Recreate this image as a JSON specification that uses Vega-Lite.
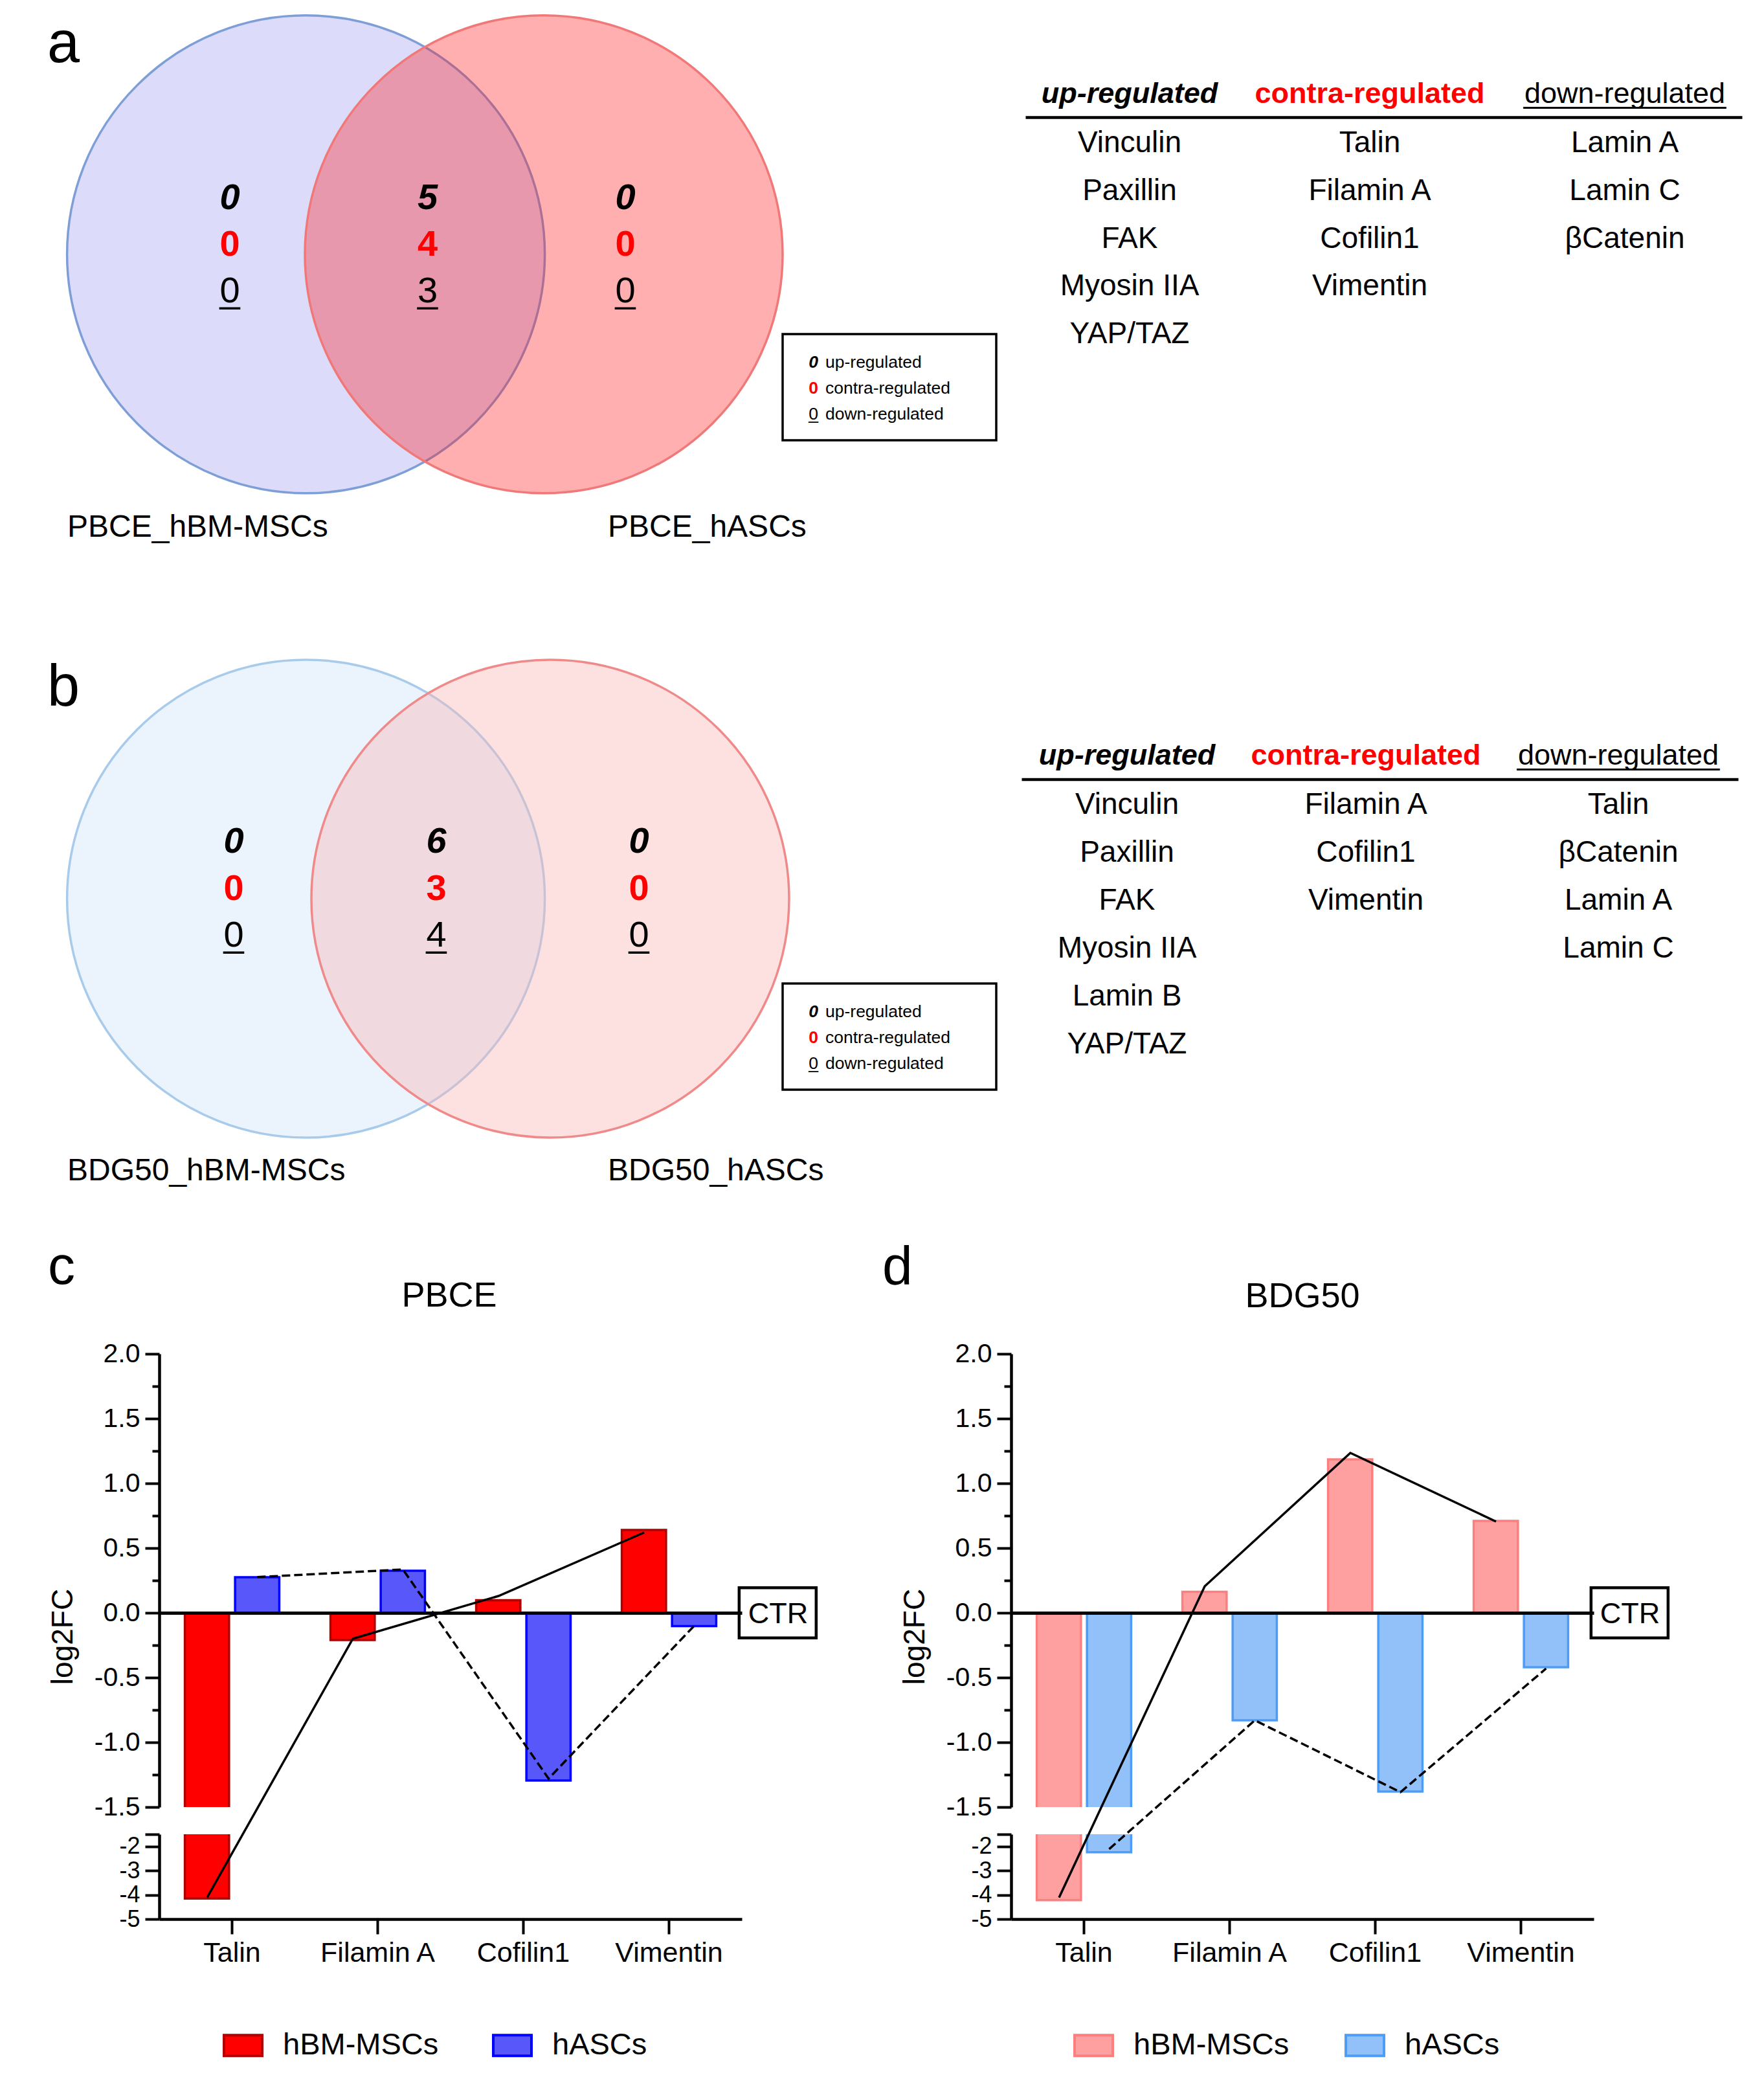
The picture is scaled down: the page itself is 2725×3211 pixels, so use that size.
{
  "$schema": "https://vega.github.io/schema/vega-lite/v6.json",
  "width": 2725,
  "height": 3211,
  "autosize": {"type": "fit", "contains": "padding"},
  "padding": 0,
  "background": "white",
  "config": {
    "view": {"stroke": null},
    "font": "Liberation Sans",
    "axis": {"grid": false, "labelColor": "black", "titleColor": "black", "domainColor": "black", "tickColor": "black", "labelFont": "Liberation Sans", "titleFont": "Liberation Sans"},
    "legend": {"labelFont": "Liberation Sans", "labelColor": "black"}
  },
  "resolve": {
    "scale": {"x": "independent", "y": "independent", "color": "independent", "fill": "independent", "stroke": "independent", "xOffset": "independent"},
    "axis": {"x": "independent", "y": "independent"}
  },
  "datasets": {
    "pbce": [
      {"gene": "Talin", "cell": "hBM-MSCs", "log2fc": -4.15, "trend": -4.11},
      {"gene": "Talin", "cell": "hASCs", "log2fc": 0.275, "trend": 0.276},
      {"gene": "Filamin A", "cell": "hBM-MSCs", "log2fc": -0.21, "trend": -0.2},
      {"gene": "Filamin A", "cell": "hASCs", "log2fc": 0.325, "trend": 0.335},
      {"gene": "Cofilin1", "cell": "hBM-MSCs", "log2fc": 0.097, "trend": 0.13},
      {"gene": "Cofilin1", "cell": "hASCs", "log2fc": -1.295, "trend": -1.28},
      {"gene": "Vimentin", "cell": "hBM-MSCs", "log2fc": 0.64, "trend": 0.62},
      {"gene": "Vimentin", "cell": "hASCs", "log2fc": -0.103, "trend": -0.1}
    ],
    "bdg50": [
      {"gene": "Talin", "cell": "hBM-MSCs", "log2fc": -4.22, "trend": -4.11},
      {"gene": "Talin", "cell": "hASCs", "log2fc": -2.24, "trend": -2.11},
      {"gene": "Filamin A", "cell": "hBM-MSCs", "log2fc": 0.163, "trend": 0.205},
      {"gene": "Filamin A", "cell": "hASCs", "log2fc": -0.83, "trend": -0.83},
      {"gene": "Cofilin1", "cell": "hBM-MSCs", "log2fc": 1.185, "trend": 1.235},
      {"gene": "Cofilin1", "cell": "hASCs", "log2fc": -1.38, "trend": -1.385},
      {"gene": "Vimentin", "cell": "hBM-MSCs", "log2fc": 0.71, "trend": 0.705},
      {"gene": "Vimentin", "cell": "hASCs", "log2fc": -0.42, "trend": -0.43}
    ],
    "venn_a": [
      {"region": "left", "kind": "up", "count": "0"},
      {"region": "left", "kind": "contra", "count": "0"},
      {"region": "left", "kind": "down", "count": "0"},
      {"region": "both", "kind": "up", "count": "5"},
      {"region": "both", "kind": "contra", "count": "4"},
      {"region": "both", "kind": "down", "count": "3"},
      {"region": "right", "kind": "up", "count": "0"},
      {"region": "right", "kind": "contra", "count": "0"},
      {"region": "right", "kind": "down", "count": "0"}
    ],
    "venn_b": [
      {"region": "left", "kind": "up", "count": "0"},
      {"region": "left", "kind": "contra", "count": "0"},
      {"region": "left", "kind": "down", "count": "0"},
      {"region": "both", "kind": "up", "count": "6"},
      {"region": "both", "kind": "contra", "count": "3"},
      {"region": "both", "kind": "down", "count": "4"},
      {"region": "right", "kind": "up", "count": "0"},
      {"region": "right", "kind": "contra", "count": "0"},
      {"region": "right", "kind": "down", "count": "0"}
    ],
    "key": [
      {"kind": "up", "digit": "0", "label": "up-regulated"},
      {"kind": "contra", "digit": "0", "label": "contra-regulated"},
      {"kind": "down", "digit": "0", "label": "down-regulated"}
    ],
    "table_a": [
      {"col": 0, "row": 0, "text": "up-regulated"},
      {"col": 1, "row": 0, "text": "contra-regulated"},
      {"col": 2, "row": 0, "text": "down-regulated"},
      {"col": 0, "row": 1, "text": "Vinculin"},
      {"col": 0, "row": 2, "text": "Paxillin"},
      {"col": 0, "row": 3, "text": "FAK"},
      {"col": 0, "row": 4, "text": "Myosin IIA"},
      {"col": 0, "row": 5, "text": "YAP/TAZ"},
      {"col": 1, "row": 1, "text": "Talin"},
      {"col": 1, "row": 2, "text": "Filamin A"},
      {"col": 1, "row": 3, "text": "Cofilin1"},
      {"col": 1, "row": 4, "text": "Vimentin"},
      {"col": 2, "row": 1, "text": "Lamin A"},
      {"col": 2, "row": 2, "text": "Lamin C"},
      {"col": 2, "row": 3, "text": "βCatenin"}
    ],
    "table_b": [
      {"col": 0, "row": 0, "text": "up-regulated"},
      {"col": 1, "row": 0, "text": "contra-regulated"},
      {"col": 2, "row": 0, "text": "down-regulated"},
      {"col": 0, "row": 1, "text": "Vinculin"},
      {"col": 0, "row": 2, "text": "Paxillin"},
      {"col": 0, "row": 3, "text": "FAK"},
      {"col": 0, "row": 4, "text": "Myosin IIA"},
      {"col": 0, "row": 5, "text": "Lamin B"},
      {"col": 0, "row": 6, "text": "YAP/TAZ"},
      {"col": 1, "row": 1, "text": "Filamin A"},
      {"col": 1, "row": 2, "text": "Cofilin1"},
      {"col": 1, "row": 3, "text": "Vimentin"},
      {"col": 2, "row": 1, "text": "Talin"},
      {"col": 2, "row": 2, "text": "βCatenin"},
      {"col": 2, "row": 3, "text": "Lamin A"},
      {"col": 2, "row": 4, "text": "Lamin C"}
    ]
  },
  "layer": [
    {
      "data": {"values": [{"panel": "a", "side": "left", "set": "PBCE_hBM-MSCs"}, {"panel": "a", "side": "right", "set": "PBCE_hASCs"}]},
      "mark": {"type": "point", "shape": "circle", "size": 544644, "strokeWidth": 3.5, "opacity": 1, "filled": true},
      "encoding": {
        "x": {"field": "side", "type": "nominal", "scale": {"type": "point", "domain": ["left", "right"], "range": [472.6, 840], "padding": 0}, "axis": null},
        "y": {"field": "panel", "type": "nominal", "scale": {"type": "point", "range": [392.8, 392.8], "padding": 0}, "axis": null},
        "fill": {"field": "side", "type": "nominal", "scale": {"domain": ["left", "right"], "range": ["#DCDCFA", "rgba(255,26,26,0.35)"]}, "legend": null},
        "stroke": {"field": "side", "type": "nominal", "scale": {"domain": ["left", "right"], "range": ["#7E9ED8", "#F07878"]}, "legend": null}
      }
    },
    {
      "data": {"values": [{"panel": "b", "side": "left", "set": "BDG50_hBM-MSCs"}, {"panel": "b", "side": "right", "set": "BDG50_hASCs"}]},
      "mark": {"type": "point", "shape": "circle", "size": 544644, "strokeWidth": 3.5, "opacity": 1, "filled": true},
      "encoding": {
        "x": {"field": "side", "type": "nominal", "scale": {"type": "point", "domain": ["left", "right"], "range": [472.6, 850], "padding": 0}, "axis": null},
        "y": {"field": "panel", "type": "nominal", "scale": {"type": "point", "range": [1388, 1388], "padding": 0}, "axis": null},
        "fill": {"field": "side", "type": "nominal", "scale": {"domain": ["left", "right"], "range": ["#EBF3FC", "rgba(250,180,180,0.4)"]}, "legend": null},
        "stroke": {"field": "side", "type": "nominal", "scale": {"domain": ["left", "right"], "range": ["#A8CBEC", "#F08A8A"]}, "legend": null}
      }
    },
    {
      "data": {"values": [{"panel": "a", "side": "left", "set": "PBCE_hBM-MSCs"}, {"panel": "a", "side": "right", "set": "PBCE_hASCs"}]},
      "mark": {"type": "text", "align": "left", "baseline": "alphabetic", "fontSize": 48, "color": "black"},
      "encoding": {
        "x": {"field": "side", "type": "nominal", "scale": {"type": "point", "domain": ["left", "right"], "range": [104, 939], "padding": 0}, "axis": null},
        "y": {"field": "panel", "type": "nominal", "scale": {"type": "point", "range": [829, 829], "padding": 0}, "axis": null},
        "text": {"field": "set", "type": "nominal"}
      }
    },
    {
      "data": {"values": [{"panel": "b", "side": "left", "set": "BDG50_hBM-MSCs"}, {"panel": "b", "side": "right", "set": "BDG50_hASCs"}]},
      "mark": {"type": "text", "align": "left", "baseline": "alphabetic", "fontSize": 48, "color": "black"},
      "encoding": {
        "x": {"field": "side", "type": "nominal", "scale": {"type": "point", "domain": ["left", "right"], "range": [104, 939], "padding": 0}, "axis": null},
        "y": {"field": "panel", "type": "nominal", "scale": {"type": "point", "range": [1823, 1823], "padding": 0}, "axis": null},
        "text": {"field": "set", "type": "nominal"}
      }
    },
    {
      "data": {"name": "venn_a"},
      "encoding": {
        "x": {"field": "region", "type": "nominal", "scale": {"type": "point", "domain": ["left", "both", "right"], "range": [355, 966], "padding": 0}, "axis": null},
        "y": {"field": "kind", "type": "nominal", "scale": {"type": "point", "domain": ["up", "contra", "down"], "range": [323, 467], "padding": 0}, "axis": null}
      },
      "layer": [
        {
          "mark": {"type": "text", "fontSize": 56, "baseline": "alphabetic", "align": "center", "fontWeight": {"expr": "datum.kind == 'down' ? 'normal' : 'bold'"}, "fontStyle": {"expr": "datum.kind == 'up' ? 'italic' : 'normal'"}},
          "encoding": {
            "text": {"field": "count", "type": "nominal"},
            "color": {"field": "kind", "type": "nominal", "scale": {"domain": ["up", "contra", "down"], "range": ["black", "#FF0000", "black"]}, "legend": null}
          }
        },
        {
          "transform": [{"filter": "datum.kind == 'down'"}],
          "mark": {"type": "text", "fontSize": 56, "baseline": "alphabetic", "align": "center", "color": "black"},
          "encoding": {"text": {"value": "_"}}
        }
      ]
    },
    {
      "data": {"name": "venn_b"},
      "encoding": {
        "x": {"field": "region", "type": "nominal", "scale": {"type": "point", "domain": ["left", "both", "right"], "range": [361, 987], "padding": 0}, "axis": null},
        "y": {"field": "kind", "type": "nominal", "scale": {"type": "point", "domain": ["up", "contra", "down"], "range": [1317, 1462], "padding": 0}, "axis": null}
      },
      "layer": [
        {
          "mark": {"type": "text", "fontSize": 56, "baseline": "alphabetic", "align": "center", "fontWeight": {"expr": "datum.kind == 'down' ? 'normal' : 'bold'"}, "fontStyle": {"expr": "datum.kind == 'up' ? 'italic' : 'normal'"}},
          "encoding": {
            "text": {"field": "count", "type": "nominal"},
            "color": {"field": "kind", "type": "nominal", "scale": {"domain": ["up", "contra", "down"], "range": ["black", "#FF0000", "black"]}, "legend": null}
          }
        },
        {
          "transform": [{"filter": "datum.kind == 'down'"}],
          "mark": {"type": "text", "fontSize": 56, "baseline": "alphabetic", "align": "center", "color": "black"},
          "encoding": {"text": {"value": "_"}}
        }
      ]
    },
    {
      "data": {"values": [{"panel": "a"}, {"panel": "b"}]},
      "mark": {"type": "point", "shape": "M-1,-0.497H1V0.497H-1Z", "size": 108900, "fill": "white", "stroke": "black", "strokeWidth": 3.5, "opacity": 1, "filled": true},
      "encoding": {
        "x": {"field": "panel", "type": "nominal", "scale": {"type": "point", "range": [1374, 1374], "padding": 0}, "axis": null},
        "y": {"field": "panel", "type": "nominal", "scale": {"type": "point", "domain": ["a", "b"], "range": [598, 1601], "padding": 0}, "axis": null}
      }
    },
    {
      "data": {"name": "key"},
      "encoding": {
        "y": {"field": "kind", "type": "nominal", "scale": {"type": "point", "domain": ["up", "contra", "down"], "range": [568, 648], "padding": 0}, "axis": null}
      },
      "layer": [
        {
          "mark": {"type": "text", "fontSize": 26.5, "baseline": "alphabetic", "align": "center", "fontWeight": {"expr": "datum.kind == 'down' ? 'normal' : 'bold'"}, "fontStyle": {"expr": "datum.kind == 'up' ? 'italic' : 'normal'"}},
          "encoding": {
            "x": {"datum": "digit", "type": "nominal", "scale": {"type": "point", "domain": ["digit", "label"], "range": [1256.5, 1275], "padding": 0}, "axis": null},
            "text": {"field": "digit", "type": "nominal"},
            "color": {"field": "kind", "type": "nominal", "scale": {"domain": ["up", "contra", "down"], "range": ["black", "#FF0000", "black"]}, "legend": null}
          }
        },
        {
          "transform": [{"filter": "datum.kind == 'down'"}],
          "mark": {"type": "text", "fontSize": 26.5, "baseline": "alphabetic", "align": "center", "color": "black"},
          "encoding": {"x": {"datum": "digit", "type": "nominal", "axis": null}, "text": {"value": "_"}}
        },
        {
          "mark": {"type": "text", "fontSize": 26.5, "baseline": "alphabetic", "align": "left", "color": "black"},
          "encoding": {"x": {"datum": "label", "type": "nominal", "axis": null}, "text": {"field": "label", "type": "nominal"}}
        }
      ]
    },
    {
      "data": {"name": "key"},
      "encoding": {
        "y": {"field": "kind", "type": "nominal", "scale": {"type": "point", "domain": ["up", "contra", "down"], "range": [1571, 1651], "padding": 0}, "axis": null}
      },
      "layer": [
        {
          "mark": {"type": "text", "fontSize": 26.5, "baseline": "alphabetic", "align": "center", "fontWeight": {"expr": "datum.kind == 'down' ? 'normal' : 'bold'"}, "fontStyle": {"expr": "datum.kind == 'up' ? 'italic' : 'normal'"}},
          "encoding": {
            "x": {"datum": "digit", "type": "nominal", "scale": {"type": "point", "domain": ["digit", "label"], "range": [1256.5, 1275], "padding": 0}, "axis": null},
            "text": {"field": "digit", "type": "nominal"},
            "color": {"field": "kind", "type": "nominal", "scale": {"domain": ["up", "contra", "down"], "range": ["black", "#FF0000", "black"]}, "legend": null}
          }
        },
        {
          "transform": [{"filter": "datum.kind == 'down'"}],
          "mark": {"type": "text", "fontSize": 26.5, "baseline": "alphabetic", "align": "center", "color": "black"},
          "encoding": {"x": {"datum": "digit", "type": "nominal", "axis": null}, "text": {"value": "_"}}
        },
        {
          "mark": {"type": "text", "fontSize": 26.5, "baseline": "alphabetic", "align": "left", "color": "black"},
          "encoding": {"x": {"datum": "label", "type": "nominal", "axis": null}, "text": {"field": "label", "type": "nominal"}}
        }
      ]
    },
    {
      "data": {"name": "table_a"},
      "encoding": {
        "x": {"field": "col", "type": "quantitative", "scale": {"domain": [-0.431, 0, 1, 2, 2.461], "range": [1584, 1745, 2116, 2510, 2691], "zero": false, "nice": false}, "axis": {"orient": "top", "offset": -181, "domain": true, "domainWidth": 4.5, "domainColor": "black", "ticks": false, "labels": false, "title": null, "grid": false}},
        "y": {"field": "row", "type": "quantitative", "scale": {"domain": [0, 1, 5], "range": [159, 235, 530], "zero": false, "nice": false}, "axis": null}
      },
      "layer": [
        {
          "transform": [{"filter": "datum.row == 0"}],
          "mark": {"type": "text", "fontSize": 45, "baseline": "alphabetic", "align": "center", "fontWeight": {"expr": "datum.col == 2 ? 'normal' : 'bold'"}, "fontStyle": {"expr": "datum.col == 0 ? 'italic' : 'normal'"}},
          "encoding": {
            "text": {"field": "text", "type": "nominal"},
            "color": {"field": "col", "type": "nominal", "scale": {"domain": [0, 1, 2], "range": ["black", "#FF0000", "black"]}, "legend": null}
          }
        },
        {
          "transform": [{"filter": "datum.row == 0 && datum.col == 2"}],
          "mark": {"type": "text", "fontSize": 46.8, "baseline": "alphabetic", "align": "center", "color": "black"},
          "encoding": {"text": {"value": "____________"}}
        },
        {
          "transform": [{"filter": "datum.row > 0"}],
          "mark": {"type": "text", "fontSize": 46, "baseline": "alphabetic", "align": "center", "color": "black"},
          "encoding": {"text": {"field": "text", "type": "nominal"}}
        }
      ]
    },
    {
      "data": {"name": "table_b"},
      "encoding": {
        "x": {"field": "col", "type": "quantitative", "scale": {"domain": [-0.44, 0, 1, 2, 2.474], "range": [1578, 1741, 2110, 2500, 2685], "zero": false, "nice": false}, "axis": {"orient": "top", "offset": -1203.5, "domain": true, "domainWidth": 4.5, "domainColor": "black", "ticks": false, "labels": false, "title": null, "grid": false}},
        "y": {"field": "row", "type": "quantitative", "scale": {"domain": [0, 1, 6], "range": [1181, 1256.7, 1626.7], "zero": false, "nice": false}, "axis": null}
      },
      "layer": [
        {
          "transform": [{"filter": "datum.row == 0"}],
          "mark": {"type": "text", "fontSize": 45, "baseline": "alphabetic", "align": "center", "fontWeight": {"expr": "datum.col == 2 ? 'normal' : 'bold'"}, "fontStyle": {"expr": "datum.col == 0 ? 'italic' : 'normal'"}},
          "encoding": {
            "text": {"field": "text", "type": "nominal"},
            "color": {"field": "col", "type": "nominal", "scale": {"domain": [0, 1, 2], "range": ["black", "#FF0000", "black"]}, "legend": null}
          }
        },
        {
          "transform": [{"filter": "datum.row == 0 && datum.col == 2"}],
          "mark": {"type": "text", "fontSize": 46.8, "baseline": "alphabetic", "align": "center", "color": "black"},
          "encoding": {"text": {"value": "____________"}}
        },
        {
          "transform": [{"filter": "datum.row > 0"}],
          "mark": {"type": "text", "fontSize": 46, "baseline": "alphabetic", "align": "center", "color": "black"},
          "encoding": {"text": {"field": "text", "type": "nominal"}}
        }
      ]
    },
    {
      "data": {"values": [{"p": "a"}, {"p": "b"}]},
      "mark": {"type": "text", "fontSize": 90, "align": "left", "baseline": "alphabetic", "color": "black"},
      "encoding": {
        "x": {"field": "p", "type": "nominal", "scale": {"type": "point", "range": [73, 73], "padding": 0}, "axis": null},
        "y": {"field": "p", "type": "nominal", "scale": {"type": "point", "domain": ["a", "b"], "range": [96, 1090], "padding": 0}, "axis": null},
        "text": {"field": "p", "type": "nominal"}
      }
    },
    {
      "data": {"values": [{"p": "c"}, {"p": "d"}]},
      "mark": {"type": "text", "fontSize": 84, "align": "left", "baseline": "alphabetic", "color": "black"},
      "encoding": {
        "x": {"field": "p", "type": "nominal", "scale": {"type": "point", "domain": ["c", "d"], "range": [74, 1363], "padding": 0}, "axis": null},
        "y": {"field": "p", "type": "nominal", "scale": {"type": "point", "domain": ["c", "d"], "range": [1983, 1984], "padding": 0}, "axis": null},
        "text": {"field": "p", "type": "nominal"}
      }
    },
    {
      "data": {"values": [{"p": "PBCE"}, {"p": "BDG50"}]},
      "mark": {"type": "text", "fontSize": 54, "align": "center", "baseline": "alphabetic", "color": "black"},
      "encoding": {
        "x": {"field": "p", "type": "nominal", "scale": {"type": "point", "domain": ["PBCE", "BDG50"], "range": [694, 2012], "padding": 0}, "axis": null},
        "y": {"field": "p", "type": "nominal", "scale": {"type": "point", "domain": ["PBCE", "BDG50"], "range": [2018, 2019], "padding": 0}, "axis": null},
        "text": {"field": "p", "type": "nominal"}
      }
    },
    {
      "data": {"name": "pbce"},
      "resolve": {"axis": {"x": "independent", "y": "independent"}},
      "layer": [
        {
          "mark": {"type": "bar", "strokeWidth": 3.5},
          "encoding": {
            "x": {"field": "gene", "type": "nominal", "sort": ["Talin", "Filamin A", "Cofilin1", "Vimentin"], "scale": {"type": "band", "domain": ["Talin", "Filamin A", "Cofilin1", "Vimentin"], "range": [246, 1146], "paddingInner": 0, "paddingOuter": 0}, "axis": {"orient": "bottom", "offset": -247, "title": null, "labelAngle": 0, "labelFontSize": 43, "labelPadding": 8, "tickSize": 23, "tickWidth": 4, "domainWidth": 4.5, "zindex": 1}},
            "xOffset": {"field": "cell", "type": "nominal", "sort": ["hBM-MSCs", "hASCs"], "scale": {"domain": ["hBM-MSCs", "hASCs"], "paddingInner": 0.12, "paddingOuter": 0.51}},
            "y": {"field": "log2fc", "type": "quantitative", "stack": null, "scale": {"domain": [-5, -1.5001, -1.5, 2], "range": [2964, 2833, 2791, 2091], "zero": false, "nice": false}, "axis": {"orient": "left", "offset": -246, "values": [2, 1.5, 1, 0.5, 0, -0.5, -1, -1.5, -1.5001, -2, -3, -4, -5], "labelOverlap": false, "labelExpr": "(datum.value < -1.5 && datum.value > -2) ? '' : (datum.value >= -1.5 ? (datum.value < 0 ? '-' + format(-datum.value, '.1f') : format(datum.value, '.1f')) : '-' + format(-datum.value, '.0f'))", "tickSize": 22, "tickWidth": 4, "domainWidth": 4.5, "domainDash": [131, 42, 700], "labelFontSize": {"condition": {"test": "datum.value < -1.5", "value": 36}, "value": 41}, "labelPadding": 8, "title": "log2FC", "titleFontSize": 46, "titleFontWeight": "normal", "titlePadding": 24, "zindex": 1}},
            "y2": {"datum": 0},
            "fill": {"field": "cell", "type": "nominal", "scale": {"domain": ["hBM-MSCs", "hASCs"], "range": ["#FF0000", "#5858FA"]}, "legend": {"orient": "none", "legendX": 344, "legendY": 3127.5, "direction": "horizontal", "title": null, "symbolType": "M-1,-0.54H1V0.54H-1Z", "symbolSize": 3481, "symbolStrokeWidth": 4, "labelFontSize": 47, "labelOffset": 30, "labelLimit": 600, "columnPadding": 76, "symbolOpacity": 1}},
            "stroke": {"field": "cell", "type": "nominal", "scale": {"domain": ["hBM-MSCs", "hASCs"], "range": ["#B00000", "#0000FF"]}, "legend": {"orient": "none", "legendX": 344, "legendY": 3127.5, "direction": "horizontal", "title": null, "symbolType": "M-1,-0.54H1V0.54H-1Z", "symbolSize": 3481, "symbolStrokeWidth": 4, "labelFontSize": 47, "labelOffset": 30, "labelLimit": 600, "columnPadding": 76, "symbolOpacity": 1}}
          }
        },
        {
          "data": {"values": [{"gap": "axis break"}]},
          "mark": {"type": "bar", "color": "white"},
          "encoding": {
            "x": {"datum": "Talin", "type": "nominal", "axis": {"orient": "top", "offset": -2491, "domainWidth": 5, "ticks": false, "labels": false, "title": null, "zindex": 1}},
            "y": {"datum": -1.5, "type": "quantitative", "axis": {"orient": "left", "offset": -246, "values": [1.75, 1.25, 0.75, 0.25, -0.25, -0.75, -1.25], "tickSize": 11, "tickWidth": 4, "labels": false, "domain": false, "title": null, "grid": false, "zindex": 1}},
            "y2": {"datum": -1.5001}
          }
        },
        {
          "transform": [{"filter": "datum.cell == 'hBM-MSCs'"}],
          "mark": {"type": "line", "color": "black", "strokeWidth": 3.5},
          "encoding": {
            "x": {"field": "gene", "type": "nominal", "bandPosition": 0.329, "axis": null},
            "y": {"field": "trend", "type": "quantitative", "axis": null}
          }
        },
        {
          "transform": [{"filter": "datum.cell == 'hASCs'"}],
          "mark": {"type": "line", "color": "black", "strokeWidth": 3.5, "strokeDash": [13, 6]},
          "encoding": {
            "x": {"field": "gene", "type": "nominal", "bandPosition": 0.673, "axis": null},
            "y": {"field": "trend", "type": "quantitative", "axis": null}
          }
        },
        {
          "data": {"values": [{"label": "CTR"}]},
          "mark": {"type": "point", "shape": "M-0.07,-0.65H1.93V0.65H-0.07Z", "size": 14161, "fill": "white", "stroke": "black", "strokeWidth": 4.5, "opacity": 1, "filled": true},
          "encoding": {
            "x": {"datum": "Vimentin", "type": "nominal", "bandPosition": 1, "axis": null},
            "y": {"datum": 0, "type": "quantitative", "axis": null}
          }
        },
        {
          "data": {"values": [{"label": "CTR"}]},
          "mark": {"type": "text", "fontSize": 45, "dx": 56, "dy": 16, "align": "center", "baseline": "alphabetic", "color": "black"},
          "encoding": {
            "x": {"datum": "Vimentin", "type": "nominal", "bandPosition": 1, "axis": null},
            "y": {"datum": 0, "type": "quantitative", "axis": null},
            "text": {"field": "label", "type": "nominal"}
          }
        }
      ]
    },
    {
      "data": {"name": "bdg50"},
      "resolve": {"axis": {"x": "independent", "y": "independent"}},
      "layer": [
        {
          "mark": {"type": "bar", "strokeWidth": 3.5},
          "encoding": {
            "x": {"field": "gene", "type": "nominal", "sort": ["Talin", "Filamin A", "Cofilin1", "Vimentin"], "scale": {"type": "band", "domain": ["Talin", "Filamin A", "Cofilin1", "Vimentin"], "range": [1562, 2462], "paddingInner": 0, "paddingOuter": 0}, "axis": {"orient": "bottom", "offset": -247, "title": null, "labelAngle": 0, "labelFontSize": 43, "labelPadding": 8, "tickSize": 23, "tickWidth": 4, "domainWidth": 4.5, "zindex": 1}},
            "xOffset": {"field": "cell", "type": "nominal", "sort": ["hBM-MSCs", "hASCs"], "scale": {"domain": ["hBM-MSCs", "hASCs"], "paddingInner": 0.12, "paddingOuter": 0.51}},
            "y": {"field": "log2fc", "type": "quantitative", "stack": null, "scale": {"domain": [-5, -1.5001, -1.5, 2], "range": [2964, 2833, 2791, 2091], "zero": false, "nice": false}, "axis": {"orient": "left", "offset": -1562, "values": [2, 1.5, 1, 0.5, 0, -0.5, -1, -1.5, -1.5001, -2, -3, -4, -5], "labelOverlap": false, "labelExpr": "(datum.value < -1.5 && datum.value > -2) ? '' : (datum.value >= -1.5 ? (datum.value < 0 ? '-' + format(-datum.value, '.1f') : format(datum.value, '.1f')) : '-' + format(-datum.value, '.0f'))", "tickSize": 22, "tickWidth": 4, "domainWidth": 4.5, "domainDash": [131, 42, 700], "labelFontSize": {"condition": {"test": "datum.value < -1.5", "value": 36}, "value": 41}, "labelPadding": 8, "title": "log2FC", "titleFontSize": 46, "titleFontWeight": "normal", "titlePadding": 24, "zindex": 1}},
            "y2": {"datum": 0},
            "fill": {"field": "cell", "type": "nominal", "scale": {"domain": ["hBM-MSCs", "hASCs"], "range": ["#FFA0A0", "#92C0F8"]}, "legend": {"orient": "none", "legendX": 1658, "legendY": 3127.5, "direction": "horizontal", "title": null, "symbolType": "M-1,-0.54H1V0.54H-1Z", "symbolSize": 3481, "symbolStrokeWidth": 4, "labelFontSize": 47, "labelOffset": 30, "labelLimit": 600, "columnPadding": 79, "symbolOpacity": 1}},
            "stroke": {"field": "cell", "type": "nominal", "scale": {"domain": ["hBM-MSCs", "hASCs"], "range": ["#FA8080", "#4D9CF5"]}, "legend": {"orient": "none", "legendX": 1658, "legendY": 3127.5, "direction": "horizontal", "title": null, "symbolType": "M-1,-0.54H1V0.54H-1Z", "symbolSize": 3481, "symbolStrokeWidth": 4, "labelFontSize": 47, "labelOffset": 30, "labelLimit": 600, "columnPadding": 79, "symbolOpacity": 1}}
          }
        },
        {
          "data": {"values": [{"gap": "axis break"}]},
          "mark": {"type": "bar", "color": "white"},
          "encoding": {
            "x": {"datum": "Talin", "type": "nominal", "axis": {"orient": "top", "offset": -2491, "domainWidth": 5, "ticks": false, "labels": false, "title": null, "zindex": 1}},
            "y": {"datum": -1.5, "type": "quantitative", "axis": {"orient": "left", "offset": -1562, "values": [1.75, 1.25, 0.75, 0.25, -0.25, -0.75, -1.25], "tickSize": 11, "tickWidth": 4, "labels": false, "domain": false, "title": null, "grid": false, "zindex": 1}},
            "y2": {"datum": -1.5001}
          }
        },
        {
          "transform": [{"filter": "datum.cell == 'hBM-MSCs'"}],
          "mark": {"type": "line", "color": "black", "strokeWidth": 3.5},
          "encoding": {
            "x": {"field": "gene", "type": "nominal", "bandPosition": 0.329, "axis": null},
            "y": {"field": "trend", "type": "quantitative", "axis": null}
          }
        },
        {
          "transform": [{"filter": "datum.cell == 'hASCs'"}],
          "mark": {"type": "line", "color": "black", "strokeWidth": 3.5, "strokeDash": [13, 6]},
          "encoding": {
            "x": {"field": "gene", "type": "nominal", "bandPosition": 0.673, "axis": null},
            "y": {"field": "trend", "type": "quantitative", "axis": null}
          }
        },
        {
          "data": {"values": [{"label": "CTR"}]},
          "mark": {"type": "point", "shape": "M-0.07,-0.65H1.93V0.65H-0.07Z", "size": 14161, "fill": "white", "stroke": "black", "strokeWidth": 4.5, "opacity": 1, "filled": true},
          "encoding": {
            "x": {"datum": "Vimentin", "type": "nominal", "bandPosition": 1, "axis": null},
            "y": {"datum": 0, "type": "quantitative", "axis": null}
          }
        },
        {
          "data": {"values": [{"label": "CTR"}]},
          "mark": {"type": "text", "fontSize": 45, "dx": 56, "dy": 16, "align": "center", "baseline": "alphabetic", "color": "black"},
          "encoding": {
            "x": {"datum": "Vimentin", "type": "nominal", "bandPosition": 1, "axis": null},
            "y": {"datum": 0, "type": "quantitative", "axis": null},
            "text": {"field": "label", "type": "nominal"}
          }
        }
      ]
    }
  ]
}
